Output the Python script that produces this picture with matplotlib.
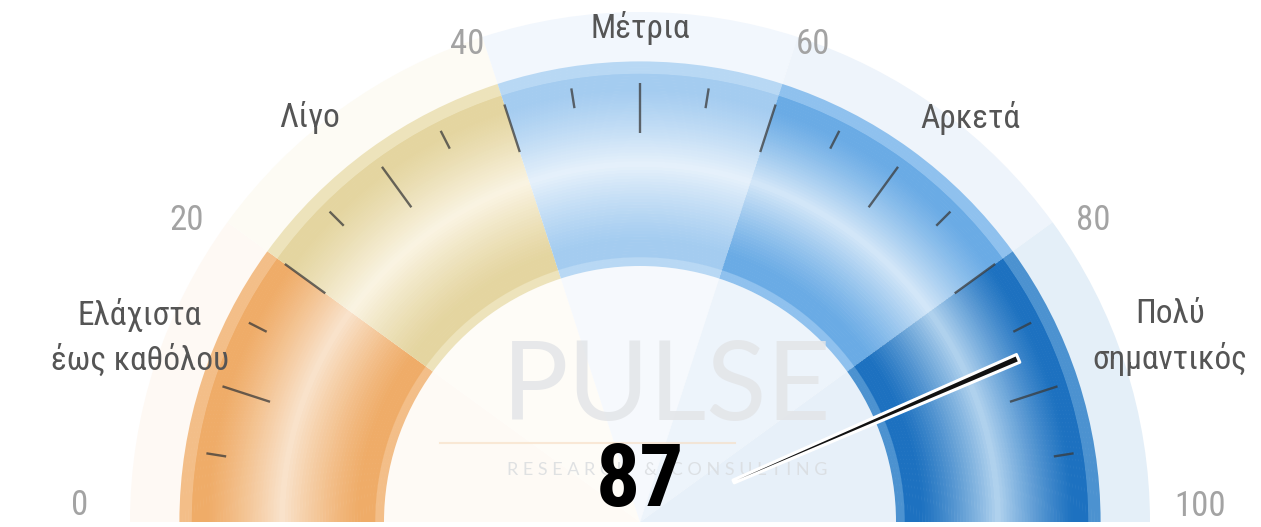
import numpy as np
import matplotlib
matplotlib.use("Agg")
import matplotlib.pyplot as plt
from matplotlib.patches import Wedge, Polygon
from matplotlib import font_manager
from matplotlib.colors import to_rgb

# --- data -------------------------------------------------------------
band_edges = [0, 20, 40, 60, 80, 100]
categories = ["Ελάχιστα\nέως καθόλου", "Λίγο", "Μέτρια", "Αρκετά", "Πολύ\nσημαντικός"]
tick_labels = ["0", "20", "40", "60", "80", "100"]
value = 87

# band colours: rim, dark ring, light middle
band_base = ["#f3be88", "#ede3bb", "#b8d8f4", "#8fc1ee", "#4c92d0"]
band_dark = ["#efac68", "#e4d5a0", "#a4ccf0", "#6aabe5", "#1d71c0"]
band_light = ["#f9e3cc", "#faf4e3", "#e6f1fb", "#d4e7f8", "#b2d3ee"]
halo_cols = ["#fef9f4", "#fdfbf4", "#f2f7fd", "#eef4fb", "#e4eff8"]
inner_cols = ["#fefaf5", "#fefcf7", "#f6f9fd", "#edf4fb", "#e7f0f9"]

# --- fonts ------------------------------------------------------------
names = {f.name for f in font_manager.fontManager.ttflist}
narrow = next((n for n in ["Liberation Sans Narrow", "Roboto Condensed", "DejaVu Sans"] if n in names), "DejaVu Sans")
thin = next((n for n in ["Lato", "Roboto", "DejaVu Sans"] if n in names), "DejaVu Sans")

# --- geometry ---------------------------------------------------------
W, H = 1261, 527
cx, cy = 640, 5
r_in, r_out, r_halo = 256, 460, 510


def ang(v):
    return 180.0 * (1 - v / 100.0)


def profile(t):
    # -1 -> dark ring, 0 -> rim colour, 1 -> light middle
    if t < 0.05 or t > 0.94:
        return 0.0
    if t < 0.12 or t > 0.87:
        return -1.0
    if t < 0.5:
        return -1.0 + 2.0 * (t - 0.12) / 0.38
    return 1.0 - 2.0 * (t - 0.5) / 0.37


def band_colour(i, t):
    s = profile(t)
    b = np.array(to_rgb(band_base[i]))
    d = np.array(to_rgb(band_dark[i]))
    l = np.array(to_rgb(band_light[i]))
    if s == 0.0:
        return b
    return np.clip(d + (l - d) * ((s + 1) / 2) ** 1.2, 0, 1)


fig = plt.figure(figsize=(W / 100, H / 100), dpi=100)
ax = fig.add_axes([0, 0, 1, 1])
ax.set_xlim(0, W)
ax.set_ylim(0, H)
ax.set_aspect("equal")
ax.axis("off")

# halo and inner disk tints
for i in range(5):
    a1, a0 = ang(band_edges[i]), ang(band_edges[i + 1])
    ax.add_patch(Wedge((cx, cy), r_halo, a0, a1, width=r_halo - r_out, fc=halo_cols[i], ec="none", zorder=1))
    ax.add_patch(Wedge((cx, cy), r_in, a0, a1, fc=inner_cols[i], ec="none", zorder=1))

# shaded bands
nsteps = 70
radii = np.linspace(r_in, r_out, nsteps + 1)
for i in range(5):
    a1, a0 = ang(band_edges[i]), ang(band_edges[i + 1])
    for k in range(nsteps):
        col = band_colour(i, (k + 0.5) / nsteps)
        ax.add_patch(Wedge((cx, cy), radii[k + 1] + 0.6, a0, a1, width=radii[k + 1] - radii[k] + 0.6,
                           fc=col, ec="none", zorder=2))

# tick marks every 5 units
for v in range(5, 100, 5):
    th = np.radians(ang(v))
    r0 = 389 if v % 10 == 0 else 419
    r1 = 439
    ax.plot([cx + r0 * np.cos(th), cx + r1 * np.cos(th)],
            [cy + r0 * np.sin(th), cy + r1 * np.sin(th)],
            color="#3a3a3a", alpha=0.75, lw=1.7, solid_capstyle="butt", zorder=3)

# scale numbers
for lab, v in zip(tick_labels, band_edges):
    th = np.radians(ang(v))
    ax.text(cx + 560 * np.cos(th), cy + 16 + 485 * np.sin(th), lab,
            ha="center", va="center", fontsize=25, color="#a3a3a3", family=narrow, zorder=5)

# category labels
cat_rx = [500, 330, 0, 330, 530]
cat_dy = [185, 404, 494, 404, 185]
for i, lab in enumerate(categories):
    mid = ang((band_edges[i] + band_edges[i + 1]) / 2)
    cm = np.cos(np.radians(mid))
    sx = np.sign(cm) if abs(cm) > 1e-6 else 0
    ax.text(cx + sx * cat_rx[i], cy + cat_dy[i], lab, ha="center", va="center",
            fontsize=24, color="#555555", family=narrow, linespacing=1.45, zorder=5)

# watermark
ax.text(667, 138, "PULSE", ha="center", va="center", fontsize=80, color="#e3e5e8",
        alpha=0.85, family=thin, fontweight="normal", zorder=4)
ax.text(667, 57, "R E S E A R C H   &   C O N S U L T I N G", ha="center", va="center",
        fontsize=13, color="#d8dbde", alpha=0.8, family=thin, zorder=4)
ax.plot([440, 735], [84, 84], color="#f6dcc0", lw=1.5, alpha=0.6, zorder=4)

# needle
th = np.radians(ang(value))
u = np.array([np.cos(th), np.sin(th)])
n = np.array([-np.sin(th), np.cos(th)])
c = np.array([cx, cy])
base, tip = c + 102 * u, c + 412 * u
pts = [base + n * 1.5, tip + n * 4.2, tip - n * 4.2, base - n * 1.5]
ax.add_patch(Polygon(pts, closed=True, fc="#111111", ec="white", lw=2.2, joinstyle="round", zorder=6))

# value
ax.text(cx, cy - 2, str(value), ha="center", va="bottom", fontsize=63, fontweight="bold",
        color="black", family=narrow, zorder=7)

fig.savefig("out.png", dpi=100, facecolor="white")
